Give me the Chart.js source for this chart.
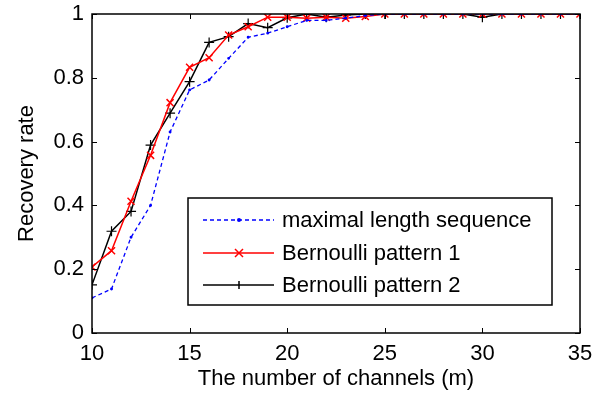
<!DOCTYPE html>
<html><head><meta charset="utf-8">
<script src="https://cdn.jsdelivr.net/npm/chart.js@4/dist/chart.umd.min.js"></script>
<style>html,body{margin:0;padding:0;background:#fff}#wrap{width:606px;height:400px}</style>
</head><body><div id="wrap"><canvas id="c" width="606" height="400"></canvas></div>
<script>
const channels = [10,11,12,13,14,15,16,17,18,19,20,21,22,23,24,25,26,27,28,29,30,31,32,33,34,35];
const mls   = [0.11,0.138,0.30,0.40,0.63,0.762,0.793,0.861,0.927,0.94,0.96,0.98,0.98,0.987,0.995,1,1,1,1,1,1,1,1,1,1,1];
const bern1 = [0.207,0.258,0.413,0.557,0.722,0.833,0.863,0.934,0.96,0.99,0.99,0.987,0.99,0.987,0.992,1,1,1,1,1,1,1,1,1,1,1];
const bern2 = [0.151,0.319,0.381,0.589,0.689,0.788,0.911,0.929,0.97,0.957,0.988,1.0,0.99,0.997,1,1,1,1,1,1,0.99,1,1,1,1,1];
const xTicks = [10,15,20,25,30,35];
const yTicks = [0,0.2,0.4,0.6,0.8,1];
const labels = ['maximal length sequence','Bernoulli pattern 1','Bernoulli pattern 2'];
const FONT = "'Liberation Sans', Arial, sans-serif";
const FS = 22;

const pts = arr => arr.map((v,i)=>({x:channels[i], y:v}));

const boxPlugin = {
  id:'box',
  afterDraw(chart){
    const {ctx, chartArea:a, scales:{x,y}} = chart;
    ctx.save();
    ctx.strokeStyle='#000'; ctx.lineWidth=1.5;
    ctx.strokeRect(a.left, a.top, a.right-a.left, a.bottom-a.top);
    ctx.lineWidth=1;
    ctx.beginPath();
    const t=5;
    xTicks.forEach(v=>{const px=Math.round(x.getPixelForValue(v))+0.5;
      ctx.moveTo(px,a.bottom); ctx.lineTo(px,a.bottom-t);
      ctx.moveTo(px,a.top); ctx.lineTo(px,a.top+t);});
    yTicks.forEach(v=>{const py=Math.round(y.getPixelForValue(v))+0.5;
      ctx.moveTo(a.left,py); ctx.lineTo(a.left+t,py);
      ctx.moveTo(a.right,py); ctx.lineTo(a.right-t,py);});
    ctx.stroke();
    // legend
    const L=188, T=198, R=552, B=305;
    ctx.fillStyle='#fff'; ctx.fillRect(L,T,R-L,B-T);
    ctx.lineWidth=1.5; ctx.strokeStyle='#000'; ctx.strokeRect(L,T,R-L,B-T);
    const rows=[220,253,285];
    ctx.font=FS+'px '+FONT; ctx.textBaseline='middle'; ctx.textAlign='left';
    chart.data.datasets.forEach((ds,i)=>{
      const yy=rows[i];
      ctx.save();
      ctx.strokeStyle=ds.borderColor; ctx.lineWidth=ds.borderWidth;
      ctx.setLineDash(ds.borderDash||[]);
      ctx.beginPath(); ctx.moveTo(203,yy); ctx.lineTo(274,yy); ctx.stroke();
      ctx.setLineDash([]);
      const cx=239;
      ctx.beginPath();
      if(i===0){ctx.fillStyle=ds.borderColor; ctx.arc(cx,yy,2,0,Math.PI*2); ctx.fill();}
      else if(i===1){ctx.moveTo(cx-4,yy-4);ctx.lineTo(cx+4,yy+4);ctx.moveTo(cx+4,yy-4);ctx.lineTo(cx-4,yy+4);ctx.stroke();}
      else {ctx.moveTo(cx,yy-4);ctx.lineTo(cx,yy+4);ctx.stroke();}
      ctx.restore();
      ctx.fillStyle='#000'; ctx.fillText(labels[i],282,yy+1);
    });
    ctx.restore();
  }
};

new Chart(document.getElementById('c'),{
  type:'line',
  data:{datasets:[
    {label:labels[0], data:pts(mls), borderColor:'#0000ff', borderWidth:1.3, borderDash:[4,3], pointRadius:0.8, pointBackgroundColor:'#0000ff', pointBorderColor:'#0000ff', fill:false, tension:0},
    {label:labels[1], data:pts(bern1), borderColor:'#ff0000', borderWidth:1.5, pointStyle:'crossRot', pointRadius:5, pointBorderColor:'#ff0000', pointBorderWidth:1.5, fill:false, tension:0},
    {label:labels[2], data:pts(bern2), borderColor:'#000000', borderWidth:1.5, pointStyle:'cross', pointRadius:5, pointBorderColor:'#000000', pointBorderWidth:1.2, fill:false, tension:0}
  ]},
  options:{
    responsive:false, animation:false, devicePixelRatio:1,
    layout:{padding:{top:14,right:26,left:0,bottom:7}},
    plugins:{legend:{display:false},tooltip:{enabled:false}},
    elements:{line:{borderJoinStyle:'miter'}},
    scales:{
      x:{type:'linear',min:10,max:35,
        afterFit(s){s.height=60; s.paddingLeft=0; s.paddingRight=0;},
        afterBuildTicks(s){s.ticks=xTicks.map(v=>({value:v}));},
        grid:{display:false,drawTicks:false}, border:{display:false},
        ticks:{color:'#000',font:{family:FONT,size:FS},padding:8,maxRotation:0,autoSkip:false},
        title:{display:true,text:'The number of channels (m)',color:'#000',font:{family:FONT,size:FS},padding:{top:0,bottom:1}}},
      y:{type:'linear',min:0,max:1,
        afterFit(s){s.width=92; s.paddingTop=0; s.paddingBottom=0;},
        afterBuildTicks(s){s.ticks=yTicks.map(v=>({value:v}));},
        grid:{display:false,drawTicks:false}, border:{display:false},
        ticks:{color:'#000',font:{family:FONT,size:FS},padding:8,autoSkip:false,callback:v=>String(+v.toFixed(1))},
        title:{display:true,text:'Recovery rate',color:'#000',font:{family:FONT,size:FS},padding:{top:14,bottom:0}}}
    }
  },
  plugins:[boxPlugin]
});
</script></body></html>
